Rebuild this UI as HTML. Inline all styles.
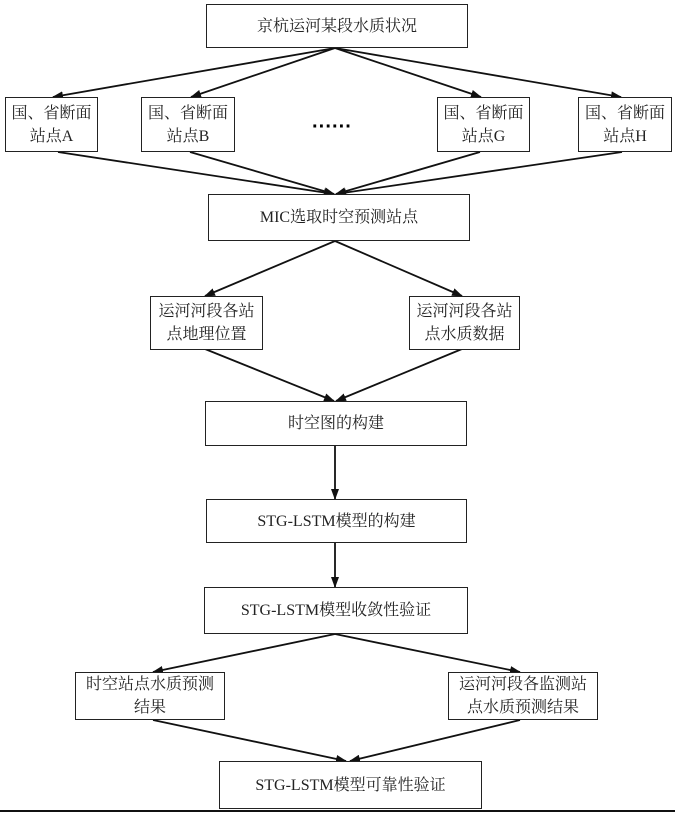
<!DOCTYPE html>
<html><head><meta charset="utf-8"><style>
body{margin:0;background:#fff;width:675px;height:813px;overflow:hidden;position:relative;font-family:"Liberation Serif","Noto Serif CJK SC",serif;}
.b{position:absolute;border:1.6px solid #222;box-sizing:border-box;display:flex;align-items:center;justify-content:center;text-align:center;font-size:16px;line-height:23px;color:#222;background:#fff}
svg{position:absolute;left:0;top:0}
</style></head><body>
<svg width="675" height="813">
<defs><marker id="a" markerWidth="11" markerHeight="8" refX="10" refY="4" orient="auto" markerUnits="userSpaceOnUse"><path d="M0,0 L11,4 L0,8 Z" fill="#111"/></marker></defs>
<g stroke="#111" stroke-width="1.8" fill="none" marker-end="url(#a)">
<line x1="335" y1="48" x2="53" y2="97"/>
<line x1="335" y1="48" x2="191" y2="97"/>
<line x1="335" y1="48" x2="481" y2="97"/>
<line x1="335" y1="48" x2="621" y2="97"/>
<line x1="58" y1="152" x2="334" y2="194"/>
<line x1="190" y1="152" x2="334" y2="194"/>
<line x1="480" y1="152" x2="336" y2="194"/>
<line x1="622" y1="152" x2="336" y2="194"/>
<line x1="335" y1="241" x2="205" y2="296"/>
<line x1="335" y1="241" x2="462" y2="296"/>
<line x1="205" y1="349" x2="334" y2="401"/>
<line x1="462" y1="349" x2="336" y2="401"/>
<line x1="335" y1="445" x2="335" y2="499"/>
<line x1="335" y1="542" x2="335" y2="587"/>
<line x1="335" y1="634" x2="153" y2="672"/>
<line x1="335" y1="634" x2="520" y2="672"/>
<line x1="153" y1="720" x2="346" y2="761"/>
<line x1="520" y1="720" x2="350" y2="761"/>
</g>
<line x1="0" y1="811" x2="675" y2="811" stroke="#111" stroke-width="2"/>
</svg>
<div class="b" style="left:206px;top:4px;width:262px;height:44px">京杭运河某段水质状况</div>
<div class="b" style="left:5px;top:97px;width:93px;height:55px">国、省断面<br>站点A</div>
<div class="b" style="left:141px;top:97px;width:94px;height:55px">国、省断面<br>站点B</div>
<div style="position:absolute;left:312px;top:116px;font-size:20px;font-weight:bold;letter-spacing:0px;font-family:'Liberation Sans',sans-serif">······</div>
<div class="b" style="left:437px;top:97px;width:93px;height:55px">国、省断面<br>站点G</div>
<div class="b" style="left:578px;top:97px;width:94px;height:55px">国、省断面<br>站点H</div>
<div class="b" style="left:208px;top:194px;width:262px;height:47px">MIC选取时空预测站点</div>
<div class="b" style="left:150px;top:296px;width:113px;height:54px">运河河段各站<br>点地理位置</div>
<div class="b" style="left:409px;top:296px;width:111px;height:54px">运河河段各站<br>点水质数据</div>
<div class="b" style="left:205px;top:401px;width:262px;height:45px">时空图的构建</div>
<div class="b" style="left:206px;top:499px;width:261px;height:44px">STG-LSTM模型的构建</div>
<div class="b" style="left:204px;top:587px;width:264px;height:47px">STG-LSTM模型收敛性验证</div>
<div class="b" style="left:75px;top:672px;width:150px;height:48px">时空站点水质预测<br>结果</div>
<div class="b" style="left:448px;top:672px;width:150px;height:48px">运河河段各监测站<br>点水质预测结果</div>
<div class="b" style="left:219px;top:761px;width:263px;height:48px">STG-LSTM模型可靠性验证</div>
</body></html>
